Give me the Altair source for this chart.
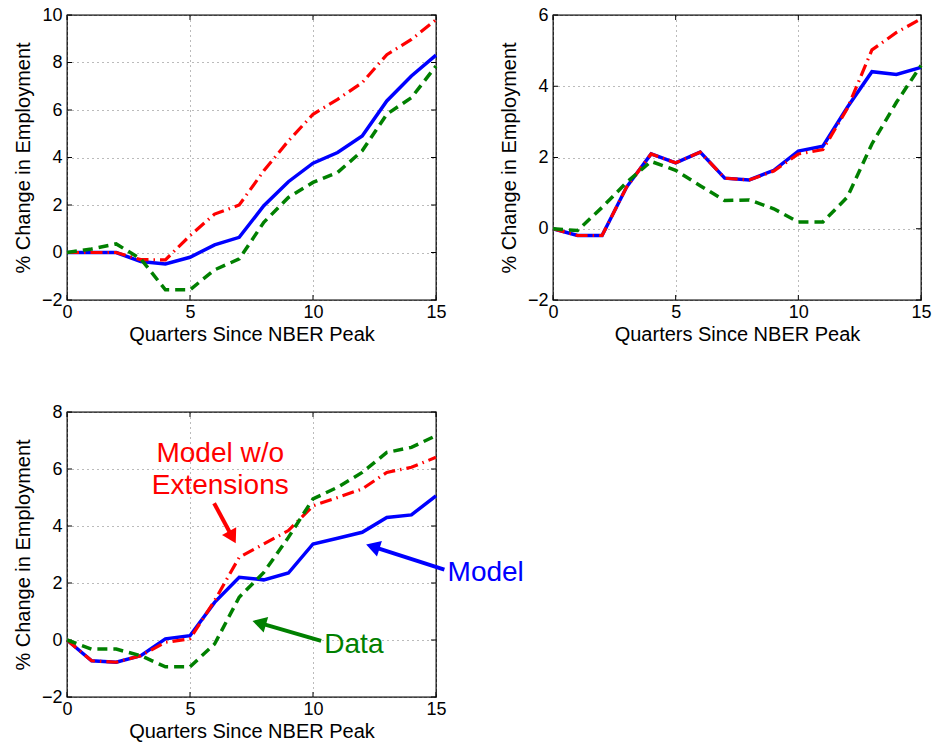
import math
import altair as alt
import pandas as pd

quarters = list(range(16))
x_ticks = [0, 5, 10, 15]

p1_model = [0, 0, 0, -0.38, -0.48, -0.2, 0.32, 0.64, 1.97, 2.98, 3.76, 4.21, 4.91, 6.38, 7.43, 8.31]
p1_noext = [0, 0, 0, -0.3, -0.31, 0.71, 1.62, 2.0, 3.44, 4.7, 5.82, 6.45, 7.15, 8.33, 8.97, 9.8]
p1_data = [0, 0.15, 0.36, -0.27, -1.57, -1.57, -0.73, -0.27, 1.27, 2.32, 2.95, 3.37, 4.28, 5.82, 6.52, 7.85]
p1_yticks = [-2, 0, 2, 4, 6, 8, 10]

p2_model = [0, -0.19, -0.19, 1.17, 2.1, 1.85, 2.15, 1.42, 1.37, 1.64, 2.18, 2.32, 3.41, 4.41, 4.33, 4.53]
p2_noext = [0, -0.19, -0.19, 1.17, 2.1, 1.85, 2.15, 1.42, 1.37, 1.62, 2.1, 2.22, 3.38, 5.02, 5.51, 5.89]
p2_data = [0, -0.05, 0.6, 1.3, 1.89, 1.64, 1.21, 0.79, 0.81, 0.56, 0.19, 0.19, 0.89, 2.38, 3.55, 4.58]
p2_yticks = [-2, 0, 2, 4, 6]

p3_model = [0, -0.73, -0.78, -0.55, 0.04, 0.15, 1.32, 2.2, 2.11, 2.35, 3.37, 3.57, 3.78, 4.3, 4.39, 5.06]
p3_noext = [0, -0.73, -0.78, -0.55, -0.08, 0.04, 1.38, 2.9, 3.37, 3.84, 4.71, 5.0, 5.3, 5.88, 6.06, 6.41]
p3_data = [0, -0.32, -0.32, -0.55, -0.94, -0.94, -0.14, 1.5, 2.37, 3.6, 4.95, 5.36, 5.88, 6.58, 6.76, 7.17]
p3_yticks = [-2, 0, 2, 4, 6, 8]

# annotations for panel 3 (data coordinates)
ann_text = ["Model w/o", "Extensions", "Model", "Data"]
ann_x = [6.23, 6.23, 15.47, 10.46]
ann_y = [6.24, 5.13, 2.08, -0.46]
ann_color = ["#ff0000", "#ff0000", "#0000ff", "#008000"]
ann_align = ["center", "center", "left", "left"]

arrow_x0 = [5.98, 15.34, 10.33]
arrow_y0 = [4.80, 2.47, -0.03]
arrow_x1 = [6.86, 12.16, 7.54]
arrow_y1 = [3.39, 3.35, 0.67]
arrow_color = ["#ff0000", "#0000ff", "#008000"]

BLUE = "#0000ff"
RED = "#ff0000"
GREEN = "#008000"
W1, W2, H = 369, 368, 285
FONT = "Liberation Sans"


def panel(model, noext, data, yticks, width, annotate=False):
    df = pd.DataFrame({"q": quarters, "model": model, "noext": noext, "data": data})
    xs = alt.Scale(domain=[0, 15], nice=False, zero=False)
    ys = alt.Scale(domain=[yticks[0], yticks[-1]], nice=False, zero=False)
    xax = alt.Axis(values=x_ticks, title="Quarters Since NBER Peak", grid=True,
                   labelPadding=3, titlePadding=3, labelFlush=False, format="d")
    yax = alt.Axis(values=yticks, title="% Change in Employment", grid=True,
                   labelPadding=5, titlePadding=8, labelFlush=False, format="d")
    X = alt.X("q:Q", scale=xs, axis=xax)

    base = alt.Chart(df)
    blue = base.mark_line(color=BLUE, strokeWidth=3.5).encode(
        x=X, y=alt.Y("model:Q", scale=ys, axis=yax))
    red = base.mark_line(color=RED, strokeWidth=3.2, strokeDash=[12, 5, 1.5, 5]).encode(
        x=X, y=alt.Y("noext:Q", scale=ys, axis=yax))
    green = base.mark_line(color=GREEN, strokeWidth=3.5, strokeDash=[10, 6]).encode(
        x=X, y=alt.Y("data:Q", scale=ys, axis=yax))

    ydf = pd.DataFrame({"v": yticks})
    xdf = pd.DataFrame({"q": x_ticks})
    tk_l = alt.Chart(ydf).mark_rule(color="black", strokeWidth=1).encode(
        y=alt.Y("v:Q", scale=ys, axis=yax), x=alt.value(0), x2=alt.value(5))
    tk_r = alt.Chart(ydf).mark_rule(color="black", strokeWidth=1).encode(
        y=alt.Y("v:Q", scale=ys, axis=yax), x=alt.value(width - 5), x2=alt.value(width))
    tk_b = alt.Chart(xdf).mark_rule(color="black", strokeWidth=1).encode(
        x=X, y=alt.value(H - 5), y2=alt.value(H))
    tk_t = alt.Chart(xdf).mark_rule(color="black", strokeWidth=1).encode(
        x=X, y=alt.value(0), y2=alt.value(5))

    layers = [tk_l, tk_r, tk_b, tk_t, blue, red, green]

    if annotate:
        kx = width / 15.0
        ky = H / float(yticks[-1] - yticks[0])
        rows = []
        for x0, y0, x1, y1, c in zip(arrow_x0, arrow_y0, arrow_x1, arrow_y1, arrow_color):
            dx = (x1 - x0) * kx
            dy = -(y1 - y0) * ky
            L = math.hypot(dx, dy)
            ang = math.degrees(math.atan2(dx, -dy)) % 360
            back = 7.0  # px back from tip to head centre
            cx = x1 - (dx / L) * back / kx
            cy = y1 + (dy / L) * back / ky
            rows.append({"x0": x0, "y0": y0, "xe": cx, "ye": cy, "c": c, "ang": ang})
        adf = pd.DataFrame(rows)
        shaft = alt.Chart(adf).mark_rule(strokeWidth=4).encode(
            x=alt.X("x0:Q", scale=xs, axis=xax), y=alt.Y("y0:Q", scale=ys, axis=yax),
            x2="xe:Q", y2="ye:Q", color=alt.Color("c:N", scale=None))
        head = alt.Chart(adf).mark_point(shape="triangle-up", filled=True, size=260, opacity=1).encode(
            x=alt.X("xe:Q", scale=xs, axis=xax), y=alt.Y("ye:Q", scale=ys, axis=yax),
            color=alt.Color("c:N", scale=None), angle=alt.Angle("ang:Q", scale=None))
        tdf = pd.DataFrame({"t": ann_text, "x": ann_x, "y": ann_y, "c": ann_color, "a": ann_align})
        tc = alt.Chart(tdf).transform_filter(alt.datum.a == "center").mark_text(
            align="center", baseline="alphabetic", fontSize=28, font=FONT).encode(
            x=alt.X("x:Q", scale=xs, axis=xax), y=alt.Y("y:Q", scale=ys, axis=yax),
            text="t:N", color=alt.Color("c:N", scale=None))
        tl = alt.Chart(tdf).transform_filter(alt.datum.a == "left").mark_text(
            align="left", baseline="alphabetic", fontSize=28, font=FONT).encode(
            x=alt.X("x:Q", scale=xs, axis=xax), y=alt.Y("y:Q", scale=ys, axis=yax),
            text="t:N", color=alt.Color("c:N", scale=None))
        layers += [shaft, head, tc, tl]

    return alt.layer(*layers).properties(width=width, height=H)


c1 = panel(p1_model, p1_noext, p1_data, p1_yticks, W1)
c2 = panel(p2_model, p2_noext, p2_data, p2_yticks, W2)
c3 = panel(p3_model, p3_noext, p3_data, p3_yticks, W1, annotate=True)

top = alt.hconcat(c1, c2, spacing=51)
chart = alt.vconcat(top, c3, spacing=57).properties(
    padding={"left": 12, "top": 5, "right": 5, "bottom": 5},
    background="white",
).configure(font=FONT).configure_axis(
    labelFont=FONT, titleFont=FONT, labelFontSize=18, titleFontSize=20,
    titleFontWeight="normal", labelColor="black", titleColor="black",
    gridColor="#777777", gridDash=[1, 4], gridWidth=1, gridOpacity=1,
    tickSize=0, ticks=False, domain=False,
).configure_view(stroke="black", strokeWidth=1.3)

chart.save("out.html", embed_options={"renderer": "svg", "actions": False})
